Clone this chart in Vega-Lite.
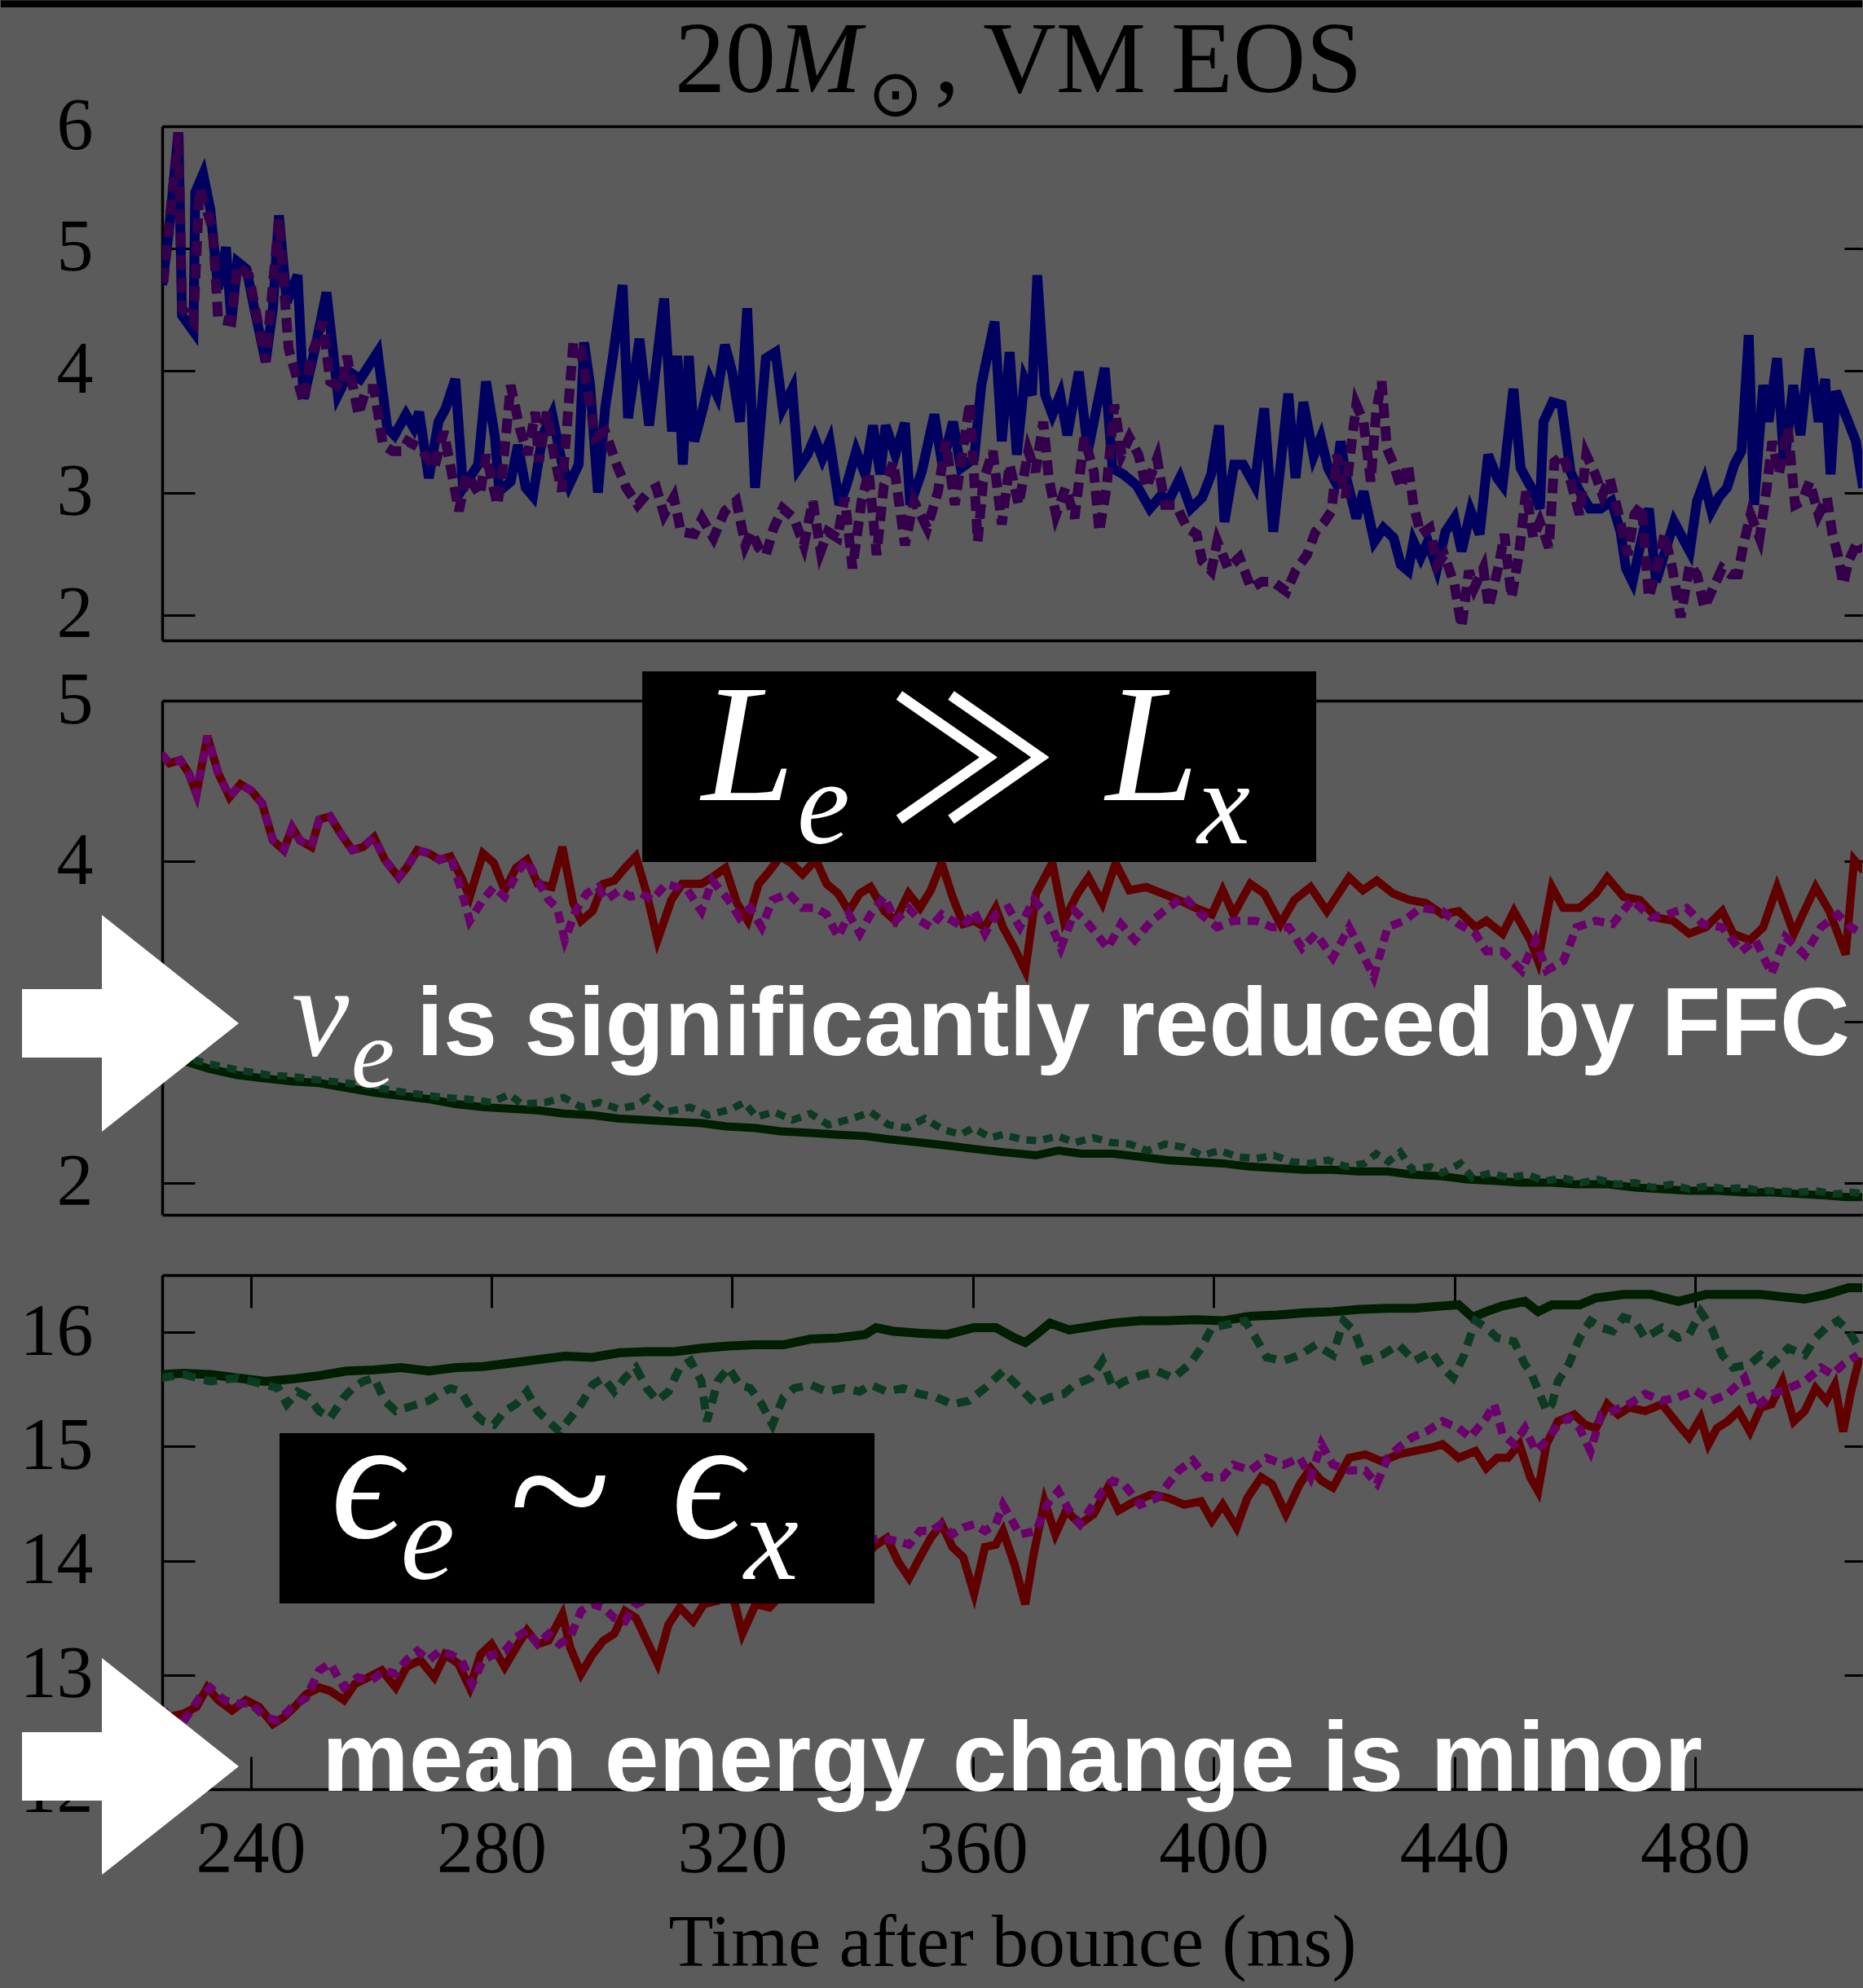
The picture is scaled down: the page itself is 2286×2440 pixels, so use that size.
{
  "$schema": "https://vega.github.io/schema/vega-lite/v6.json",
  "background": "#5b5b5b",
  "padding": {"left": 0, "top": 0, "right": 0, "bottom": 10},
  "spacing": 74,
  "bounds": "flush",
  "config": {
    "view": {"stroke": null},
    "axis": {
      "grid": false,
      "domainColor": "#000000",
      "domainWidth": 3.5,
      "tickColor": "#000000",
      "tickWidth": 3,
      "labelColor": "#000000",
      "labelFont": "Liberation Serif",
      "labelFontSize": 90,
      "labelFlush": false,
      "labelOverlap": false,
      "titleColor": "#000000",
      "titleFont": "Liberation Serif",
      "titleFontWeight": "normal"
    }
  },
  "datasets": {
    "top_solid": [
      {"t":225.3,"v":4.7},{"t":226.4,"v":5.13},{"t":228.0,"v":5.95},{"t":228.6,"v":4.45},{"t":230.5,"v":4.32},{"t":230.8,"v":5.46},{"t":232.1,"v":5.61},{"t":233.3,"v":5.32},{"t":234.6,"v":4.67},{"t":235.9,"v":5.01},{"t":236.8,"v":4.4},{"t":237.8,"v":4.89},{"t":239.3,"v":4.83},{"t":240.6,"v":4.51},{"t":242.5,"v":4.07},{"t":243.7,"v":4.51},{"t":244.7,"v":5.27},{"t":246.0,"v":4.56},{"t":247.8,"v":4.78},{"t":248.8,"v":3.77},{"t":250.7,"v":4.18},{"t":252.6,"v":4.64},{"t":254.5,"v":3.8},{"t":256.4,"v":3.99},{"t":258.2,"v":3.93},{"t":261.1,"v":4.15},{"t":262.7,"v":3.53},{"t":263.9,"v":3.47},{"t":265.8,"v":3.64},{"t":267.1,"v":3.53},{"t":268.0,"v":3.66},{"t":269.6,"v":3.12},{"t":271.2,"v":3.58},{"t":272.4,"v":3.69},{"t":274.0,"v":3.93},{"t":275.3,"v":3.04},{"t":277.8,"v":3.23},{"t":279.1,"v":3.91},{"t":280.6,"v":3.45},{"t":281.3,"v":3.01},{"t":283.2,"v":3.09},{"t":284.4,"v":3.39},{"t":285.7,"v":3.04},{"t":286.9,"v":2.97},{"t":288.5,"v":3.47},{"t":290.1,"v":3.64},{"t":291.7,"v":3.25},{"t":292.9,"v":3.06},{"t":294.5,"v":3.23},{"t":295.4,"v":4.23},{"t":296.4,"v":3.88},{"t":297.7,"v":3.0},{"t":298.9,"v":3.69},{"t":300.2,"v":4.12},{"t":301.8,"v":4.7},{"t":302.7,"v":3.61},{"t":304.6,"v":4.26},{"t":306.2,"v":3.55},{"t":308.7,"v":4.59},{"t":310.0,"v":3.5},{"t":310.9,"v":4.12},{"t":311.8,"v":3.23},{"t":312.8,"v":4.12},{"t":313.7,"v":3.42},{"t":315.0,"v":3.66},{"t":316.3,"v":3.93},{"t":317.5,"v":3.8},{"t":318.8,"v":4.21},{"t":320.0,"v":3.99},{"t":321.3,"v":3.58},{"t":322.5,"v":4.51},{"t":323.8,"v":3.04},{"t":325.6,"v":4.1},{"t":327.2,"v":4.15},{"t":328.4,"v":3.69},{"t":330.0,"v":3.85},{"t":331.0,"v":3.2},{"t":332.5,"v":3.31},{"t":333.7,"v":3.45},{"t":335.0,"v":3.28},{"t":336.2,"v":3.42},{"t":337.8,"v":2.9},{"t":339.0,"v":3.06},{"t":340.6,"v":3.34},{"t":342.1,"v":3.15},{"t":343.4,"v":3.55},{"t":344.6,"v":3.15},{"t":345.5,"v":3.55},{"t":347.1,"v":3.31},{"t":348.7,"v":3.57},{"t":349.6,"v":2.9},{"t":351.5,"v":3.17},{"t":353.6,"v":3.64},{"t":354.9,"v":3.23},{"t":356.7,"v":3.58},{"t":358.0,"v":3.2},{"t":360.2,"v":3.28},{"t":361.4,"v":3.88},{"t":363.6,"v":4.4},{"t":364.8,"v":3.42},{"t":366.1,"v":4.15},{"t":367.3,"v":3.31},{"t":368.6,"v":3.93},{"t":369.8,"v":3.8},{"t":370.7,"v":4.78},{"t":372.0,"v":3.8},{"t":373.2,"v":3.64},{"t":374.5,"v":3.8},{"t":375.7,"v":3.47},{"t":377.6,"v":3.99},{"t":379.1,"v":3.34},{"t":381.9,"v":4.02},{"t":383.2,"v":3.2},{"t":385.0,"v":3.15},{"t":387.2,"v":3.06},{"t":389.4,"v":2.87},{"t":391.3,"v":2.98},{"t":392.5,"v":2.93},{"t":394.4,"v":3.12},{"t":396.2,"v":2.87},{"t":398.1,"v":2.96},{"t":399.6,"v":3.15},{"t":400.9,"v":3.55},{"t":401.8,"v":2.76},{"t":403.4,"v":3.23},{"t":404.9,"v":3.23},{"t":406.8,"v":3.06},{"t":408.4,"v":3.69},{"t":409.9,"v":2.68},{"t":412.4,"v":3.81},{"t":413.6,"v":3.12},{"t":414.9,"v":3.74},{"t":416.6,"v":3.3},{"t":417.8,"v":3.45},{"t":419.0,"v":3.2},{"t":420.2,"v":3.09},{"t":421.1,"v":3.42},{"t":421.9,"v":3.15},{"t":423.7,"v":2.79},{"t":424.9,"v":3.01},{"t":426.7,"v":2.6},{"t":428.2,"v":2.71},{"t":429.9,"v":2.63},{"t":431.1,"v":2.41},{"t":432.3,"v":2.36},{"t":433.2,"v":2.6},{"t":434.4,"v":2.47},{"t":435.6,"v":2.6},{"t":437.1,"v":2.38},{"t":438.5,"v":2.68},{"t":440.0,"v":2.79},{"t":441.2,"v":2.52},{"t":442.7,"v":2.85},{"t":444.2,"v":2.66},{"t":445.6,"v":3.31},{"t":447.1,"v":3.12},{"t":448.0,"v":3.06},{"t":449.8,"v":3.85},{"t":451.0,"v":3.2},{"t":453.1,"v":3.01},{"t":454.2,"v":2.87},{"t":454.8,"v":3.58},{"t":456.3,"v":3.74},{"t":457.8,"v":3.72},{"t":459.3,"v":3.17},{"t":460.8,"v":3.01},{"t":462.5,"v":2.87},{"t":464.3,"v":2.87},{"t":466.1,"v":2.93},{"t":467.6,"v":2.68},{"t":468.5,"v":2.38},{"t":469.6,"v":2.27},{"t":470.8,"v":2.55},{"t":472.3,"v":2.87},{"t":473.5,"v":2.27},{"t":474.7,"v":2.47},{"t":476.5,"v":2.76},{"t":477.9,"v":2.63},{"t":479.1,"v":2.52},{"t":480.3,"v":2.93},{"t":481.5,"v":3.09},{"t":482.7,"v":2.85},{"t":483.9,"v":2.96},{"t":485.3,"v":3.04},{"t":486.5,"v":3.23},{"t":487.7,"v":3.34},{"t":488.9,"v":4.29},{"t":489.8,"v":2.9},{"t":491.3,"v":3.88},{"t":492.2,"v":3.58},{"t":493.6,"v":4.1},{"t":494.8,"v":3.23},{"t":496.3,"v":3.88},{"t":497.5,"v":3.47},{"t":499.0,"v":4.18},{"t":500.5,"v":3.58},{"t":501.6,"v":3.93},{"t":502.5,"v":3.15},{"t":503.4,"v":3.83},{"t":505.2,"v":3.61},{"t":506.7,"v":3.42},{"t":507.9,"v":3.04}
    ],
    "top_dashed": [
      {"t":225.5,"v":4.72},{"t":228.0,"v":5.95},{"t":228.6,"v":4.51},{"t":230.5,"v":4.4},{"t":231.5,"v":5.49},{"t":233.7,"v":5.16},{"t":234.6,"v":4.42},{"t":236.8,"v":4.4},{"t":237.8,"v":4.86},{"t":239.7,"v":4.78},{"t":242.5,"v":4.07},{"t":244.7,"v":5.24},{"t":246.3,"v":4.18},{"t":248.8,"v":3.74},{"t":250.1,"v":4.12},{"t":252.0,"v":4.4},{"t":253.2,"v":3.91},{"t":255.1,"v":3.85},{"t":256.0,"v":4.12},{"t":257.9,"v":3.64},{"t":259.2,"v":3.85},{"t":260.5,"v":3.85},{"t":262.0,"v":3.39},{"t":263.6,"v":3.34},{"t":265.2,"v":3.34},{"t":266.1,"v":3.42},{"t":268.3,"v":3.36},{"t":270.5,"v":3.2},{"t":272.1,"v":3.5},{"t":274.6,"v":2.85},{"t":275.9,"v":3.15},{"t":278.1,"v":2.98},{"t":279.1,"v":3.31},{"t":281.0,"v":2.9},{"t":281.9,"v":3.2},{"t":283.2,"v":3.88},{"t":284.7,"v":3.53},{"t":286.0,"v":3.31},{"t":287.3,"v":3.66},{"t":287.9,"v":3.25},{"t":289.2,"v":3.66},{"t":290.4,"v":3.31},{"t":291.7,"v":3.01},{"t":292.6,"v":3.58},{"t":293.6,"v":4.23},{"t":294.8,"v":4.18},{"t":296.1,"v":3.8},{"t":297.3,"v":3.45},{"t":298.9,"v":3.5},{"t":300.8,"v":3.23},{"t":302.4,"v":3.04},{"t":304.3,"v":2.9},{"t":306.2,"v":3.01},{"t":307.4,"v":3.04},{"t":308.7,"v":2.82},{"t":310.3,"v":2.96},{"t":311.5,"v":2.68},{"t":313.7,"v":2.66},{"t":315.0,"v":2.79},{"t":316.9,"v":2.63},{"t":318.8,"v":2.85},{"t":320.7,"v":2.93},{"t":322.2,"v":2.57},{"t":323.2,"v":2.68},{"t":324.4,"v":2.55},{"t":325.6,"v":2.49},{"t":326.9,"v":2.71},{"t":328.4,"v":2.87},{"t":330.3,"v":2.79},{"t":331.9,"v":2.57},{"t":333.4,"v":2.93},{"t":334.7,"v":2.52},{"t":335.9,"v":2.68},{"t":337.5,"v":2.63},{"t":338.7,"v":2.96},{"t":340.0,"v":2.38},{"t":341.5,"v":2.93},{"t":342.7,"v":3.17},{"t":344.0,"v":2.49},{"t":345.2,"v":3.06},{"t":346.8,"v":3.25},{"t":348.7,"v":2.57},{"t":350.2,"v":2.93},{"t":352.4,"v":2.71},{"t":354.2,"v":3.01},{"t":355.5,"v":3.42},{"t":357.0,"v":2.9},{"t":358.3,"v":3.34},{"t":359.5,"v":3.74},{"t":360.8,"v":2.6},{"t":361.7,"v":3.09},{"t":363.3,"v":3.34},{"t":364.8,"v":2.74},{"t":366.1,"v":3.23},{"t":367.6,"v":2.9},{"t":369.2,"v":3.34},{"t":370.4,"v":3.17},{"t":371.7,"v":3.58},{"t":372.6,"v":3.12},{"t":373.8,"v":2.82},{"t":375.4,"v":3.04},{"t":376.9,"v":2.79},{"t":378.5,"v":3.45},{"t":380.1,"v":3.17},{"t":381.0,"v":2.68},{"t":382.2,"v":3.04},{"t":383.5,"v":3.72},{"t":384.7,"v":3.31},{"t":386.0,"v":3.45},{"t":387.5,"v":3.31},{"t":388.8,"v":3.04},{"t":390.6,"v":3.28},{"t":391.9,"v":2.9},{"t":393.7,"v":2.9},{"t":395.6,"v":2.71},{"t":397.2,"v":2.66},{"t":398.1,"v":2.44},{"t":399.6,"v":2.36},{"t":400.6,"v":2.6},{"t":402.4,"v":2.38},{"t":404.3,"v":2.47},{"t":406.2,"v":2.22},{"t":408.0,"v":2.27},{"t":409.9,"v":2.27},{"t":412.1,"v":2.19},{"t":413.6,"v":2.36},{"t":415.5,"v":2.49},{"t":416.9,"v":2.68},{"t":418.4,"v":2.76},{"t":419.6,"v":2.85},{"t":420.5,"v":3.31},{"t":421.9,"v":2.96},{"t":422.8,"v":3.36},{"t":423.7,"v":3.72},{"t":424.9,"v":3.58},{"t":426.1,"v":3.09},{"t":427.0,"v":3.66},{"t":427.9,"v":3.91},{"t":428.8,"v":3.36},{"t":429.9,"v":3.23},{"t":431.1,"v":3.04},{"t":432.3,"v":3.23},{"t":433.2,"v":2.9},{"t":434.4,"v":2.66},{"t":435.9,"v":2.71},{"t":437.1,"v":2.41},{"t":438.3,"v":2.49},{"t":440.0,"v":2.25},{"t":441.2,"v":1.9},{"t":442.4,"v":2.36},{"t":443.3,"v":2.22},{"t":444.8,"v":2.38},{"t":445.7,"v":2.06},{"t":447.4,"v":2.41},{"t":448.3,"v":2.66},{"t":449.5,"v":2.14},{"t":450.7,"v":2.49},{"t":451.9,"v":3.01},{"t":453.1,"v":2.63},{"t":454.2,"v":2.76},{"t":455.7,"v":2.55},{"t":456.6,"v":3.25},{"t":458.1,"v":3.31},{"t":459.6,"v":3.04},{"t":460.8,"v":2.82},{"t":461.9,"v":3.31},{"t":463.4,"v":3.15},{"t":464.6,"v":2.98},{"t":465.8,"v":3.12},{"t":467.3,"v":2.82},{"t":468.8,"v":2.49},{"t":469.9,"v":2.82},{"t":471.1,"v":2.9},{"t":472.3,"v":2.14},{"t":473.8,"v":2.41},{"t":474.9,"v":2.66},{"t":476.2,"v":2.38},{"t":477.6,"v":1.98},{"t":479.1,"v":2.41},{"t":480.3,"v":2.33},{"t":481.5,"v":2.06},{"t":483.0,"v":2.22},{"t":484.5,"v":2.38},{"t":485.9,"v":2.33},{"t":487.1,"v":2.33},{"t":488.0,"v":2.57},{"t":489.2,"v":2.82},{"t":490.7,"v":2.63},{"t":491.9,"v":3.04},{"t":492.8,"v":3.42},{"t":493.9,"v":3.15},{"t":495.4,"v":3.53},{"t":496.6,"v":2.9},{"t":497.8,"v":2.93},{"t":499.0,"v":3.09},{"t":500.5,"v":2.82},{"t":501.9,"v":2.96},{"t":502.8,"v":2.66},{"t":503.7,"v":2.49},{"t":504.6,"v":2.25},{"t":505.5,"v":2.44},{"t":507.0,"v":2.6},{"t":507.9,"v":2.52}
    ],
    "mid_e_solid": [
      {"t":225.1,"v":4.67},{"t":226.5,"v":4.61},{"t":228.3,"v":4.63},{"t":229.7,"v":4.55},{"t":231.0,"v":4.42},{"t":232.8,"v":4.78},{"t":234.6,"v":4.55},{"t":236.5,"v":4.4},{"t":238.3,"v":4.48},{"t":240.1,"v":4.44},{"t":241.9,"v":4.36},{"t":243.7,"v":4.13},{"t":245.5,"v":4.07},{"t":246.9,"v":4.21},{"t":248.2,"v":4.13},{"t":250.1,"v":4.09},{"t":251.4,"v":4.26},{"t":253.2,"v":4.28},{"t":255.0,"v":4.17},{"t":256.9,"v":4.07},{"t":258.7,"v":4.09},{"t":260.5,"v":4.15},{"t":262.3,"v":4.01},{"t":264.6,"v":3.9},{"t":265.9,"v":3.96},{"t":267.7,"v":4.07},{"t":269.6,"v":4.05},{"t":271.4,"v":4.01},{"t":273.2,"v":4.03},{"t":275.0,"v":3.9},{"t":276.4,"v":3.78},{"t":278.6,"v":4.05},{"t":280.4,"v":3.99},{"t":282.2,"v":3.82},{"t":284.1,"v":3.96},{"t":285.9,"v":4.01},{"t":287.7,"v":3.86},{"t":290.0,"v":3.84},{"t":291.8,"v":4.09},{"t":293.6,"v":3.74},{"t":294.9,"v":3.63},{"t":296.8,"v":3.69},{"t":298.6,"v":3.86},{"t":300.4,"v":3.88},{"t":302.2,"v":3.96},{"t":304.0,"v":4.03},{"t":305.8,"v":3.8},{"t":307.6,"v":3.51},{"t":309.9,"v":3.76},{"t":311.7,"v":3.86},{"t":313.5,"v":3.86},{"t":314.9,"v":3.86},{"t":316.7,"v":3.9},{"t":318.9,"v":3.96},{"t":320.8,"v":3.74},{"t":322.6,"v":3.63},{"t":324.4,"v":3.86},{"t":326.2,"v":3.94},{"t":328.0,"v":4.03},{"t":329.8,"v":3.99},{"t":331.7,"v":3.92},{"t":333.9,"v":4.01},{"t":335.7,"v":3.86},{"t":337.6,"v":3.8},{"t":339.4,"v":3.69},{"t":341.2,"v":3.8},{"t":343.0,"v":3.84},{"t":345.3,"v":3.69},{"t":347.1,"v":3.63},{"t":349.3,"v":3.8},{"t":351.2,"v":3.71},{"t":353.0,"v":3.82},{"t":354.8,"v":3.99},{"t":356.6,"v":3.78},{"t":358.4,"v":3.61},{"t":360.2,"v":3.63},{"t":362.0,"v":3.59},{"t":363.8,"v":3.71},{"t":365.0,"v":3.59},{"t":366.9,"v":3.46},{"t":368.7,"v":3.32},{"t":370.5,"v":3.8},{"t":373.2,"v":3.99},{"t":375.1,"v":3.63},{"t":377.4,"v":3.8},{"t":379.2,"v":3.9},{"t":381.5,"v":3.74},{"t":383.7,"v":3.99},{"t":386.0,"v":3.82},{"t":388.8,"v":3.84},{"t":391.5,"v":3.8},{"t":394.2,"v":3.76},{"t":397.0,"v":3.71},{"t":399.7,"v":3.67},{"t":401.5,"v":3.82},{"t":403.3,"v":3.67},{"t":406.1,"v":3.86},{"t":408.4,"v":3.8},{"t":411.1,"v":3.61},{"t":413.4,"v":3.76},{"t":416.1,"v":3.84},{"t":418.8,"v":3.69},{"t":422.5,"v":3.9},{"t":424.8,"v":3.82},{"t":427.1,"v":3.88},{"t":429.8,"v":3.8},{"t":432.5,"v":3.76},{"t":435.3,"v":3.74},{"t":438.0,"v":3.67},{"t":440.7,"v":3.69},{"t":443.5,"v":3.59},{"t":445.3,"v":3.63},{"t":448.0,"v":3.55},{"t":449.9,"v":3.69},{"t":452.6,"v":3.51},{"t":453.9,"v":3.38},{"t":456.2,"v":3.84},{"t":458.1,"v":3.71},{"t":460.8,"v":3.71},{"t":463.5,"v":3.8},{"t":465.4,"v":3.9},{"t":468.1,"v":3.78},{"t":470.8,"v":3.76},{"t":473.6,"v":3.65},{"t":476.3,"v":3.63},{"t":479.0,"v":3.55},{"t":481.8,"v":3.59},{"t":484.5,"v":3.69},{"t":486.3,"v":3.55},{"t":489.1,"v":3.51},{"t":491.3,"v":3.59},{"t":493.6,"v":3.84},{"t":496.4,"v":3.55},{"t":500.0,"v":3.84},{"t":502.3,"v":3.69},{"t":505.0,"v":3.42},{"t":506.4,"v":4.01},{"t":508.0,"v":3.94}
    ],
    "mid_e_dashed": [
      {"t":225.1,"v":4.67},{"t":226.5,"v":4.61},{"t":228.3,"v":4.63},{"t":229.7,"v":4.55},{"t":231.0,"v":4.42},{"t":232.8,"v":4.78},{"t":234.6,"v":4.55},{"t":236.5,"v":4.4},{"t":238.3,"v":4.48},{"t":240.1,"v":4.44},{"t":241.9,"v":4.36},{"t":243.7,"v":4.13},{"t":245.5,"v":4.07},{"t":246.9,"v":4.21},{"t":248.2,"v":4.13},{"t":250.1,"v":4.09},{"t":251.4,"v":4.26},{"t":253.2,"v":4.28},{"t":255.0,"v":4.17},{"t":256.9,"v":4.07},{"t":258.7,"v":4.09},{"t":260.5,"v":4.15},{"t":262.3,"v":4.01},{"t":264.6,"v":3.9},{"t":265.9,"v":3.96},{"t":267.7,"v":4.07},{"t":269.6,"v":4.05},{"t":271.4,"v":4.01},{"t":273.2,"v":4.03},{"t":275.0,"v":3.82},{"t":276.4,"v":3.63},{"t":278.6,"v":3.76},{"t":280.4,"v":3.84},{"t":282.2,"v":3.78},{"t":284.5,"v":3.94},{"t":285.9,"v":4.01},{"t":287.7,"v":3.88},{"t":289.5,"v":3.76},{"t":290.9,"v":3.71},{"t":292.2,"v":3.51},{"t":294.0,"v":3.69},{"t":295.8,"v":3.8},{"t":297.7,"v":3.84},{"t":299.0,"v":3.76},{"t":301.3,"v":3.82},{"t":303.1,"v":3.78},{"t":304.9,"v":3.8},{"t":306.7,"v":3.76},{"t":309.0,"v":3.86},{"t":310.8,"v":3.84},{"t":312.6,"v":3.82},{"t":314.9,"v":3.69},{"t":316.7,"v":3.88},{"t":319.4,"v":3.76},{"t":321.2,"v":3.65},{"t":323.0,"v":3.71},{"t":324.9,"v":3.59},{"t":326.7,"v":3.76},{"t":329.4,"v":3.8},{"t":331.7,"v":3.71},{"t":333.9,"v":3.71},{"t":335.7,"v":3.67},{"t":337.6,"v":3.53},{"t":339.4,"v":3.67},{"t":341.2,"v":3.55},{"t":343.0,"v":3.67},{"t":345.3,"v":3.78},{"t":347.1,"v":3.63},{"t":349.3,"v":3.71},{"t":351.2,"v":3.63},{"t":353.0,"v":3.59},{"t":354.8,"v":3.67},{"t":356.6,"v":3.63},{"t":358.4,"v":3.59},{"t":360.2,"v":3.69},{"t":362.0,"v":3.55},{"t":363.8,"v":3.67},{"t":365.9,"v":3.71},{"t":367.8,"v":3.59},{"t":370.1,"v":3.76},{"t":372.3,"v":3.67},{"t":374.6,"v":3.46},{"t":376.9,"v":3.69},{"t":379.2,"v":3.61},{"t":382.4,"v":3.46},{"t":384.6,"v":3.61},{"t":386.9,"v":3.51},{"t":389.7,"v":3.63},{"t":392.4,"v":3.71},{"t":395.1,"v":3.78},{"t":397.9,"v":3.67},{"t":400.6,"v":3.59},{"t":403.3,"v":3.63},{"t":407.0,"v":3.63},{"t":409.7,"v":3.59},{"t":412.5,"v":3.59},{"t":414.7,"v":3.46},{"t":417.0,"v":3.55},{"t":419.8,"v":3.4},{"t":422.5,"v":3.59},{"t":424.3,"v":3.46},{"t":426.6,"v":3.28},{"t":428.9,"v":3.59},{"t":431.6,"v":3.63},{"t":434.4,"v":3.71},{"t":438.0,"v":3.69},{"t":440.7,"v":3.61},{"t":443.5,"v":3.55},{"t":445.3,"v":3.44},{"t":448.0,"v":3.44},{"t":451.2,"v":3.32},{"t":453.5,"v":3.51},{"t":455.3,"v":3.32},{"t":458.1,"v":3.38},{"t":460.3,"v":3.59},{"t":463.5,"v":3.63},{"t":466.3,"v":3.61},{"t":469.5,"v":3.76},{"t":472.7,"v":3.65},{"t":475.4,"v":3.67},{"t":478.6,"v":3.71},{"t":481.3,"v":3.61},{"t":484.5,"v":3.59},{"t":487.7,"v":3.44},{"t":490.0,"v":3.51},{"t":492.7,"v":3.3},{"t":495.0,"v":3.53},{"t":498.2,"v":3.42},{"t":500.9,"v":3.59},{"t":503.7,"v":3.67},{"t":505.9,"v":3.59},{"t":507.8,"v":3.55}
    ],
    "mid_x_solid": [
      {"t":225.3,"v":2.83},{"t":228.7,"v":2.76},{"t":233.0,"v":2.71},{"t":237.8,"v":2.67},{"t":242.0,"v":2.65},{"t":246.9,"v":2.63},{"t":251.4,"v":2.62},{"t":256.0,"v":2.59},{"t":260.5,"v":2.56},{"t":265.0,"v":2.54},{"t":269.6,"v":2.52},{"t":274.0,"v":2.49},{"t":278.6,"v":2.47},{"t":283.0,"v":2.46},{"t":287.7,"v":2.45},{"t":292.0,"v":2.43},{"t":296.8,"v":2.42},{"t":301.0,"v":2.4},{"t":305.8,"v":2.39},{"t":310.0,"v":2.38},{"t":314.9,"v":2.37},{"t":319.0,"v":2.35},{"t":323.9,"v":2.34},{"t":328.0,"v":2.32},{"t":333.0,"v":2.31},{"t":337.0,"v":2.3},{"t":342.1,"v":2.29},{"t":346.0,"v":2.27},{"t":351.2,"v":2.25},{"t":356.0,"v":2.23},{"t":360.2,"v":2.21},{"t":365.0,"v":2.19},{"t":370.5,"v":2.17},{"t":374.2,"v":2.2},{"t":378.0,"v":2.18},{"t":383.3,"v":2.18},{"t":388.0,"v":2.16},{"t":392.4,"v":2.14},{"t":397.0,"v":2.13},{"t":401.5,"v":2.12},{"t":406.0,"v":2.1},{"t":410.6,"v":2.09},{"t":415.0,"v":2.08},{"t":419.8,"v":2.08},{"t":424.0,"v":2.07},{"t":428.9,"v":2.07},{"t":433.0,"v":2.05},{"t":438.0,"v":2.04},{"t":442.0,"v":2.02},{"t":447.1,"v":2.01},{"t":451.0,"v":2.0},{"t":456.2,"v":2.0},{"t":460.0,"v":1.99},{"t":465.4,"v":1.99},{"t":470.0,"v":1.97},{"t":474.5,"v":1.96},{"t":479.0,"v":1.95},{"t":483.6,"v":1.95},{"t":488.0,"v":1.94},{"t":492.7,"v":1.94},{"t":497.0,"v":1.93},{"t":501.8,"v":1.92},{"t":505.0,"v":1.91},{"t":508.0,"v":1.91}
    ],
    "mid_x_dashed": [
      {"t":225.3,"v":2.85},{"t":229,"v":2.78},{"t":233,"v":2.74},{"t":238,"v":2.7},{"t":243,"v":2.67},{"t":247,"v":2.66},{"t":251,"v":2.64},{"t":256,"v":2.62},{"t":260,"v":2.6},{"t":264,"v":2.57},{"t":268,"v":2.55},{"t":272,"v":2.53},{"t":276,"v":2.52},{"t":280,"v":2.5},{"t":283,"v":2.55},{"t":285,"v":2.49},{"t":289,"v":2.5},{"t":292,"v":2.53},{"t":295,"v":2.47},{"t":298,"v":2.5},{"t":301,"v":2.46},{"t":304,"v":2.48},{"t":306,"v":2.53},{"t":309,"v":2.44},{"t":313,"v":2.47},{"t":316,"v":2.42},{"t":320,"v":2.46},{"t":322,"v":2.5},{"t":324,"v":2.41},{"t":327,"v":2.44},{"t":330,"v":2.39},{"t":333,"v":2.43},{"t":336,"v":2.36},{"t":340,"v":2.4},{"t":343,"v":2.44},{"t":346,"v":2.36},{"t":349,"v":2.34},{"t":352,"v":2.4},{"t":355,"v":2.33},{"t":358,"v":2.3},{"t":360,"v":2.34},{"t":363,"v":2.28},{"t":365,"v":2.3},{"t":368,"v":2.27},{"t":371,"v":2.26},{"t":374,"v":2.29},{"t":377,"v":2.25},{"t":380,"v":2.28},{"t":383,"v":2.25},{"t":386,"v":2.24},{"t":389,"v":2.2},{"t":392,"v":2.24},{"t":395,"v":2.22},{"t":398,"v":2.17},{"t":401,"v":2.2},{"t":404,"v":2.16},{"t":407,"v":2.15},{"t":410,"v":2.17},{"t":413,"v":2.13},{"t":416,"v":2.12},{"t":419,"v":2.14},{"t":422,"v":2.1},{"t":425,"v":2.12},{"t":427,"v":2.18},{"t":429,"v":2.13},{"t":431,"v":2.19},{"t":433,"v":2.08},{"t":436,"v":2.1},{"t":438,"v":2.06},{"t":441,"v":2.12},{"t":443,"v":2.03},{"t":446,"v":2.06},{"t":449,"v":2.03},{"t":452,"v":2.05},{"t":455,"v":2.01},{"t":458,"v":2.03},{"t":461,"v":2.0},{"t":464,"v":2.02},{"t":467,"v":1.99},{"t":470,"v":2.0},{"t":473,"v":1.97},{"t":476,"v":1.99},{"t":479,"v":1.96},{"t":482,"v":1.98},{"t":485,"v":1.96},{"t":488,"v":1.97},{"t":491,"v":1.95},{"t":494,"v":1.95},{"t":497,"v":1.94},{"t":500,"v":1.95},{"t":503,"v":1.93},{"t":506,"v":1.94},{"t":508,"v":1.93}
    ],
    "bot_x_solid": [
      {"t":225.1,"v":15.63},{"t":228.8,"v":15.64},{"t":233.3,"v":15.63},{"t":237.8,"v":15.6},{"t":242.4,"v":15.57},{"t":246.9,"v":15.59},{"t":251.4,"v":15.62},{"t":255.9,"v":15.66},{"t":260.5,"v":15.67},{"t":265.0,"v":15.69},{"t":269.6,"v":15.66},{"t":274.1,"v":15.69},{"t":278.6,"v":15.7},{"t":283.2,"v":15.73},{"t":287.7,"v":15.76},{"t":292.2,"v":15.79},{"t":296.8,"v":15.78},{"t":301.3,"v":15.82},{"t":305.8,"v":15.83},{"t":310.4,"v":15.83},{"t":314.9,"v":15.86},{"t":319.4,"v":15.88},{"t":323.9,"v":15.89},{"t":328.5,"v":15.89},{"t":333.0,"v":15.94},{"t":337.5,"v":15.95},{"t":342.1,"v":15.98},{"t":343.9,"v":16.04},{"t":346.6,"v":16.01},{"t":351.2,"v":15.99},{"t":355.7,"v":15.98},{"t":360.2,"v":16.04},{"t":363.8,"v":16.04},{"t":366.9,"v":15.95},{"t":368.7,"v":15.91},{"t":370.5,"v":15.98},{"t":372.8,"v":16.08},{"t":376.0,"v":16.02},{"t":379.6,"v":16.05},{"t":383.3,"v":16.08},{"t":387.8,"v":16.1},{"t":392.4,"v":16.1},{"t":396.9,"v":16.11},{"t":401.5,"v":16.1},{"t":406.1,"v":16.14},{"t":410.6,"v":16.15},{"t":415.2,"v":16.17},{"t":419.8,"v":16.18},{"t":424.3,"v":16.2},{"t":428.9,"v":16.21},{"t":433.4,"v":16.21},{"t":438.0,"v":16.23},{"t":440.7,"v":16.24},{"t":443.0,"v":16.13},{"t":445.3,"v":16.18},{"t":448.0,"v":16.23},{"t":451.7,"v":16.27},{"t":453.9,"v":16.18},{"t":456.2,"v":16.24},{"t":460.8,"v":16.24},{"t":463.5,"v":16.3},{"t":468.1,"v":16.33},{"t":472.7,"v":16.33},{"t":477.2,"v":16.27},{"t":481.8,"v":16.33},{"t":486.3,"v":16.33},{"t":490.9,"v":16.33},{"t":494.5,"v":16.31},{"t":498.2,"v":16.29},{"t":501.8,"v":16.33},{"t":505.5,"v":16.39},{"t":508.0,"v":16.39}
    ],
    "bot_x_dashed": [
      {"t":225.1,"v":15.6},{"t":228.8,"v":15.63},{"t":233.3,"v":15.57},{"t":237.8,"v":15.6},{"t":242.4,"v":15.54},{"t":244.6,"v":15.51},{"t":246.0,"v":15.37},{"t":247.8,"v":15.48},{"t":249.6,"v":15.43},{"t":251.4,"v":15.31},{"t":253.2,"v":15.25},{"t":255.5,"v":15.43},{"t":256.9,"v":15.51},{"t":258.7,"v":15.57},{"t":260.5,"v":15.6},{"t":262.3,"v":15.4},{"t":264.1,"v":15.31},{"t":265.9,"v":15.34},{"t":267.7,"v":15.37},{"t":269.6,"v":15.4},{"t":271.4,"v":15.46},{"t":273.2,"v":15.51},{"t":275.0,"v":15.48},{"t":276.8,"v":15.31},{"t":278.6,"v":15.22},{"t":280.4,"v":15.19},{"t":282.2,"v":15.31},{"t":284.1,"v":15.37},{"t":285.9,"v":15.48},{"t":287.7,"v":15.31},{"t":289.5,"v":15.22},{"t":291.3,"v":15.13},{"t":293.1,"v":15.25},{"t":294.9,"v":15.37},{"t":296.8,"v":15.54},{"t":298.6,"v":15.6},{"t":300.4,"v":15.48},{"t":302.2,"v":15.6},{"t":304.0,"v":15.69},{"t":305.8,"v":15.51},{"t":307.6,"v":15.4},{"t":309.4,"v":15.48},{"t":311.3,"v":15.69},{"t":313.1,"v":15.75},{"t":314.9,"v":15.57},{"t":315.8,"v":15.22},{"t":317.6,"v":15.57},{"t":319.4,"v":15.69},{"t":321.2,"v":15.54},{"t":323.0,"v":15.51},{"t":324.9,"v":15.37},{"t":326.7,"v":15.19},{"t":328.5,"v":15.43},{"t":330.3,"v":15.51},{"t":333.0,"v":15.54},{"t":335.7,"v":15.48},{"t":338.5,"v":15.51},{"t":341.2,"v":15.48},{"t":343.0,"v":15.54},{"t":345.7,"v":15.48},{"t":348.4,"v":15.51},{"t":351.1,"v":15.46},{"t":353.9,"v":15.43},{"t":356.6,"v":15.37},{"t":359.3,"v":15.4},{"t":362.0,"v":15.51},{"t":365.0,"v":15.66},{"t":367.8,"v":15.51},{"t":370.5,"v":15.37},{"t":372.8,"v":15.43},{"t":375.1,"v":15.46},{"t":376.9,"v":15.54},{"t":379.6,"v":15.6},{"t":381.5,"v":15.75},{"t":383.3,"v":15.51},{"t":385.1,"v":15.57},{"t":387.8,"v":15.62},{"t":390.6,"v":15.66},{"t":393.3,"v":15.6},{"t":396.0,"v":15.72},{"t":397.9,"v":15.86},{"t":399.7,"v":16.04},{"t":402.4,"v":16.07},{"t":405.2,"v":16.1},{"t":407.0,"v":15.95},{"t":408.8,"v":15.78},{"t":411.6,"v":15.75},{"t":414.3,"v":15.8},{"t":417.0,"v":15.89},{"t":419.8,"v":15.8},{"t":421.6,"v":16.1},{"t":423.4,"v":16.01},{"t":425.2,"v":15.75},{"t":427.9,"v":15.8},{"t":430.7,"v":15.89},{"t":433.4,"v":15.75},{"t":436.2,"v":15.83},{"t":438.0,"v":15.69},{"t":439.8,"v":15.6},{"t":441.6,"v":15.8},{"t":443.5,"v":16.1},{"t":445.3,"v":16.04},{"t":447.1,"v":15.95},{"t":449.9,"v":15.92},{"t":451.7,"v":15.72},{"t":452.6,"v":15.66},{"t":454.4,"v":15.43},{"t":455.3,"v":15.31},{"t":456.2,"v":15.37},{"t":457.2,"v":15.57},{"t":459.0,"v":15.72},{"t":460.8,"v":15.95},{"t":462.6,"v":16.1},{"t":464.4,"v":16.04},{"t":466.3,"v":16.01},{"t":468.1,"v":16.13},{"t":469.9,"v":16.1},{"t":471.7,"v":15.95},{"t":474.5,"v":16.04},{"t":477.2,"v":15.95},{"t":479.0,"v":15.98},{"t":480.9,"v":16.18},{"t":482.7,"v":16.04},{"t":484.5,"v":15.8},{"t":486.3,"v":15.69},{"t":489.1,"v":15.72},{"t":490.9,"v":15.8},{"t":492.7,"v":15.72},{"t":495.5,"v":15.86},{"t":498.2,"v":15.8},{"t":500.0,"v":15.95},{"t":501.8,"v":16.04},{"t":503.7,"v":16.1},{"t":505.5,"v":16.01},{"t":507.3,"v":15.86}
    ],
    "bot_e_solid": [
      {"t":225.3,"v":12.6},{"t":226.0,"v":12.63},{"t":228.8,"v":12.66},{"t":231.0,"v":12.72},{"t":232.8,"v":12.89},{"t":234.6,"v":12.78},{"t":236.9,"v":12.69},{"t":239.2,"v":12.78},{"t":241.4,"v":12.72},{"t":243.7,"v":12.57},{"t":245.5,"v":12.63},{"t":247.3,"v":12.72},{"t":249.2,"v":12.83},{"t":251.4,"v":12.89},{"t":253.2,"v":12.86},{"t":255.5,"v":12.78},{"t":257.3,"v":12.92},{"t":259.6,"v":12.98},{"t":261.8,"v":13.04},{"t":264.1,"v":12.89},{"t":265.9,"v":13.07},{"t":268.2,"v":13.13},{"t":270.5,"v":12.98},{"t":272.3,"v":13.18},{"t":274.5,"v":13.1},{"t":276.4,"v":12.89},{"t":278.2,"v":13.18},{"t":280.0,"v":13.27},{"t":282.2,"v":13.07},{"t":284.1,"v":13.24},{"t":285.9,"v":13.39},{"t":287.7,"v":13.27},{"t":289.5,"v":13.3},{"t":291.8,"v":13.53},{"t":293.1,"v":13.24},{"t":294.9,"v":13.01},{"t":296.8,"v":13.18},{"t":298.6,"v":13.3},{"t":300.4,"v":13.36},{"t":302.2,"v":13.56},{"t":304.0,"v":13.5},{"t":305.8,"v":13.3},{"t":307.6,"v":13.1},{"t":309.4,"v":13.44},{"t":311.3,"v":13.59},{"t":313.5,"v":13.47},{"t":315.3,"v":13.62},{"t":317.6,"v":13.65},{"t":319.9,"v":13.74},{"t":321.7,"v":13.36},{"t":323.9,"v":13.62},{"t":326.2,"v":13.59},{"t":329.0,"v":13.75},{"t":332.0,"v":13.8},{"t":335.0,"v":13.85},{"t":338.0,"v":13.95},{"t":341.0,"v":14.0},{"t":344.0,"v":14.14},{"t":345.7,"v":14.2},{"t":347.6,"v":13.99},{"t":349.4,"v":13.85},{"t":351.2,"v":14.03},{"t":353.0,"v":14.2},{"t":354.8,"v":14.32},{"t":356.6,"v":14.12},{"t":358.4,"v":14.03},{"t":360.2,"v":13.71},{"t":362.0,"v":14.12},{"t":363.8,"v":14.14},{"t":365.0,"v":14.26},{"t":366.9,"v":13.97},{"t":368.7,"v":13.62},{"t":370.1,"v":14.06},{"t":371.9,"v":14.52},{"t":373.7,"v":14.23},{"t":375.5,"v":14.44},{"t":377.8,"v":14.32},{"t":380.1,"v":14.41},{"t":382.4,"v":14.64},{"t":384.2,"v":14.44},{"t":386.9,"v":14.52},{"t":389.7,"v":14.58},{"t":392.4,"v":14.55},{"t":395.1,"v":14.49},{"t":397.9,"v":14.52},{"t":399.7,"v":14.35},{"t":401.5,"v":14.49},{"t":403.8,"v":14.29},{"t":405.6,"v":14.55},{"t":407.9,"v":14.73},{"t":409.7,"v":14.67},{"t":412.0,"v":14.41},{"t":414.3,"v":14.67},{"t":416.1,"v":14.81},{"t":417.9,"v":14.7},{"t":419.8,"v":14.64},{"t":422.5,"v":14.9},{"t":425.2,"v":14.93},{"t":427.9,"v":14.87},{"t":430.7,"v":14.93},{"t":433.4,"v":14.96},{"t":436.2,"v":14.99},{"t":438.0,"v":15.02},{"t":440.7,"v":14.9},{"t":443.5,"v":14.96},{"t":445.3,"v":14.81},{"t":447.1,"v":14.9},{"t":448.9,"v":14.9},{"t":450.8,"v":15.02},{"t":452.6,"v":14.73},{"t":453.9,"v":14.61},{"t":455.3,"v":15.02},{"t":457.2,"v":15.22},{"t":459.9,"v":15.28},{"t":461.7,"v":15.19},{"t":463.5,"v":15.16},{"t":465.4,"v":15.37},{"t":467.2,"v":15.28},{"t":469.0,"v":15.34},{"t":471.7,"v":15.31},{"t":474.5,"v":15.37},{"t":477.2,"v":15.19},{"t":479.0,"v":15.08},{"t":480.9,"v":15.25},{"t":482.2,"v":15.02},{"t":483.6,"v":15.16},{"t":485.4,"v":15.22},{"t":487.2,"v":15.31},{"t":489.1,"v":15.13},{"t":490.9,"v":15.34},{"t":492.7,"v":15.37},{"t":494.5,"v":15.57},{"t":496.4,"v":15.22},{"t":498.2,"v":15.31},{"t":500.0,"v":15.51},{"t":501.8,"v":15.4},{"t":503.2,"v":15.54},{"t":504.6,"v":15.13},{"t":505.9,"v":15.48},{"t":507.3,"v":15.78}
    ],
    "bot_e_dashed": [
      {"t":225.3,"v":12.62},{"t":226.0,"v":12.66},{"t":227.8,"v":12.51},{"t":231.5,"v":12.8},{"t":233.3,"v":12.89},{"t":235.6,"v":12.78},{"t":237.8,"v":12.75},{"t":240.1,"v":12.75},{"t":242.4,"v":12.63},{"t":244.6,"v":12.6},{"t":246.9,"v":12.72},{"t":249.2,"v":12.8},{"t":251.4,"v":13.04},{"t":253.2,"v":13.1},{"t":255.5,"v":12.89},{"t":257.8,"v":12.98},{"t":260.0,"v":12.95},{"t":262.3,"v":13.04},{"t":264.1,"v":13.01},{"t":265.9,"v":13.13},{"t":267.7,"v":13.21},{"t":269.6,"v":13.13},{"t":271.4,"v":13.21},{"t":273.2,"v":13.18},{"t":275.0,"v":13.13},{"t":276.8,"v":12.92},{"t":278.6,"v":13.13},{"t":280.4,"v":13.18},{"t":282.2,"v":13.21},{"t":284.1,"v":13.33},{"t":285.9,"v":13.39},{"t":287.7,"v":13.27},{"t":289.5,"v":13.36},{"t":291.3,"v":13.27},{"t":293.1,"v":13.33},{"t":294.9,"v":13.56},{"t":296.8,"v":13.62},{"t":298.6,"v":13.59},{"t":300.4,"v":13.5},{"t":302.2,"v":13.47},{"t":304.0,"v":13.62},{"t":308.0,"v":13.7},{"t":312.0,"v":13.8},{"t":316.0,"v":13.85},{"t":320.0,"v":13.9},{"t":325.0,"v":13.95},{"t":330.0,"v":14.0},{"t":335.0,"v":14.05},{"t":340.0,"v":14.15},{"t":344.8,"v":14.2},{"t":347.6,"v":14.17},{"t":349.4,"v":14.14},{"t":351.2,"v":14.26},{"t":353.0,"v":14.26},{"t":354.8,"v":14.32},{"t":356.6,"v":14.23},{"t":358.4,"v":14.29},{"t":360.2,"v":14.32},{"t":362.0,"v":14.26},{"t":363.8,"v":14.32},{"t":365.0,"v":14.49},{"t":367.8,"v":14.23},{"t":370.5,"v":14.26},{"t":372.3,"v":14.49},{"t":374.2,"v":14.61},{"t":376.0,"v":14.44},{"t":377.8,"v":14.32},{"t":379.6,"v":14.46},{"t":381.5,"v":14.61},{"t":383.3,"v":14.7},{"t":385.1,"v":14.67},{"t":387.8,"v":14.49},{"t":390.6,"v":14.55},{"t":392.4,"v":14.67},{"t":394.2,"v":14.79},{"t":396.5,"v":14.88},{"t":398.8,"v":14.73},{"t":401.5,"v":14.73},{"t":403.3,"v":14.84},{"t":406.1,"v":14.79},{"t":408.8,"v":14.9},{"t":411.6,"v":14.84},{"t":414.3,"v":14.9},{"t":416.1,"v":14.73},{"t":417.9,"v":15.02},{"t":419.8,"v":14.84},{"t":422.5,"v":14.79},{"t":425.2,"v":14.79},{"t":427.1,"v":14.67},{"t":428.9,"v":14.9},{"t":430.7,"v":14.99},{"t":433.0,"v":15.08},{"t":435.3,"v":15.13},{"t":438.0,"v":15.22},{"t":440.7,"v":15.16},{"t":442.6,"v":15.08},{"t":445.3,"v":15.25},{"t":446.6,"v":15.37},{"t":448.0,"v":15.11},{"t":449.9,"v":15.02},{"t":451.7,"v":15.16},{"t":453.5,"v":14.96},{"t":455.3,"v":15.05},{"t":457.2,"v":15.19},{"t":459.0,"v":15.25},{"t":460.8,"v":15.16},{"t":462.6,"v":14.96},{"t":464.4,"v":15.28},{"t":466.3,"v":15.31},{"t":469.0,"v":15.37},{"t":471.7,"v":15.46},{"t":474.5,"v":15.4},{"t":477.2,"v":15.43},{"t":480.0,"v":15.49},{"t":482.7,"v":15.4},{"t":485.4,"v":15.46},{"t":488.2,"v":15.6},{"t":490.0,"v":15.34},{"t":492.7,"v":15.46},{"t":495.5,"v":15.51},{"t":498.2,"v":15.57},{"t":500.9,"v":15.69},{"t":502.8,"v":15.63},{"t":504.6,"v":15.72},{"t":507.0,"v":15.8}
    ]
  },
  "vconcat": [
    {
      "width": 2086,
      "height": 631,
      "resolve": {"axis": {"x": "independent", "y": "independent"}},
      "layer": [
        {
          "data": {"name": "top_solid"},
          "mark": {"type": "line", "color": "#000060", "strokeWidth": 12, "clip": true},
          "encoding": {
            "x": {"field": "t", "type": "quantitative", "scale": {"domain": [225.3, 507.75], "nice": false, "zero": false},
                  "axis": {"orient": "bottom", "ticks": false, "labels": false, "title": null}},
            "y": {"field": "v", "type": "quantitative", "scale": {"domain": [1.79, 6.0], "nice": false, "zero": false},
                  "axis": {"orient": "left", "values": [2, 3, 4, 5, 6], "tickSize": -40, "labelPadding": 125, "title": null}}
          }
        },
        {
          "data": {"name": "top_dashed"},
          "mark": {"type": "line", "color": "#34004c", "strokeWidth": 12, "strokeDash": [18, 10], "clip": true},
          "encoding": {
            "x": {"field": "t", "type": "quantitative", "axis": {"orient": "top", "ticks": false, "labels": false, "title": null}},
            "y": {"field": "v", "type": "quantitative", "axis": {"orient": "right", "values": [2, 3, 4, 5], "tickSize": -22, "labels": false, "domain": false, "title": null}}
          }
        },
        {
          "data": {"values": [{}]},
          "mark": {"type": "rect", "color": "#000000"},
          "encoding": {
            "x": {"datum": 198.49, "type": "quantitative", "axis": null},
            "x2": {"datum": 507.75},
            "y": {"datum": 7.03, "type": "quantitative", "axis": null},
            "y2": {"datum": 6.974}
          }
        },
        {
          "data": {"values": [{}]},
          "mark": {"type": "text", "text": "20", "font": "Liberation Serif", "fontSize": 124, "color": "#000000", "align": "left", "baseline": "alphabetic"},
          "encoding": {"x": {"datum": 310.47, "type": "quantitative", "axis": null}, "y": {"datum": 6.28, "type": "quantitative", "axis": null}}
        },
        {
          "data": {"values": [{}]},
          "mark": {"type": "text", "text": "M", "font": "Liberation Serif", "fontStyle": "italic", "fontSize": 124, "color": "#000000", "align": "left", "baseline": "alphabetic"},
          "encoding": {"x": {"datum": 327.5, "type": "quantitative", "axis": null}, "y": {"datum": 6.28, "type": "quantitative", "axis": null}}
        },
        {
          "data": {"values": [{}]},
          "mark": {"type": "text", "text": "⊙", "font": "DejaVu Sans", "fontSize": 80, "color": "#000000", "align": "left", "baseline": "alphabetic"},
          "encoding": {"x": {"datum": 342.6, "type": "quantitative", "axis": null}, "y": {"datum": 6.087, "type": "quantitative", "axis": null}}
        },
        {
          "data": {"values": [{}]},
          "mark": {"type": "text", "text": ", VM EOS", "font": "Liberation Serif", "fontSize": 124, "color": "#000000", "align": "left", "baseline": "alphabetic"},
          "encoding": {"x": {"datum": 353.6, "type": "quantitative", "axis": null}, "y": {"datum": 6.28, "type": "quantitative", "axis": null}}
        }
      ]
    },
    {
      "width": 2086,
      "height": 631,
      "resolve": {"axis": {"x": "independent", "y": "independent"}},
      "layer": [
        {
          "data": {"name": "mid_x_solid"},
          "mark": {"type": "line", "color": "#001e00", "strokeWidth": 10, "clip": true},
          "encoding": {
            "x": {"field": "t", "type": "quantitative", "scale": {"domain": [225.3, 507.75], "nice": false, "zero": false},
                  "axis": {"orient": "bottom", "ticks": false, "labels": false, "title": null}},
            "y": {"field": "v", "type": "quantitative", "scale": {"domain": [1.8, 5.0], "nice": false, "zero": false},
                  "axis": {"orient": "left", "values": [2, 3, 4, 5], "tickSize": -40, "labelPadding": 125, "title": null}}
          }
        },
        {
          "data": {"name": "mid_x_dashed"},
          "mark": {"type": "line", "color": "#0d3a23", "strokeWidth": 9, "strokeDash": [12, 9], "clip": true},
          "encoding": {
            "x": {"field": "t", "type": "quantitative", "axis": {"orient": "top", "ticks": false, "labels": false, "title": null}},
            "y": {"field": "v", "type": "quantitative", "axis": {"orient": "right", "values": [2, 3, 4], "tickSize": -22, "labels": false, "domain": false, "title": null}}
          }
        },
        {
          "data": {"name": "mid_e_solid"},
          "mark": {"type": "line", "color": "#600000", "strokeWidth": 10, "clip": true},
          "encoding": {
            "x": {"field": "t", "type": "quantitative", "axis": null},
            "y": {"field": "v", "type": "quantitative", "axis": null}
          }
        },
        {
          "data": {"name": "mid_e_dashed"},
          "mark": {"type": "line", "color": "#6b006b", "strokeWidth": 10, "strokeDash": [14, 9], "clip": true},
          "encoding": {
            "x": {"field": "t", "type": "quantitative", "axis": null},
            "y": {"field": "v", "type": "quantitative", "axis": null}
          }
        },
        {
          "data": {"values": [{}]},
          "mark": {"type": "rect", "color": "#000000"},
          "encoding": {
            "x": {"datum": 305.06, "type": "quantitative", "axis": null},
            "x2": {"datum": 417.04},
            "y": {"datum": 5.183, "type": "quantitative", "axis": null},
            "y2": {"datum": 3.996}
          }
        },
        {
          "data": {"values": [{}]},
          "mark": {"type": "text", "text": "L", "font": "Liberation Serif", "fontStyle": "italic", "fontSize": 205, "color": "#ffffff", "align": "left", "baseline": "alphabetic"},
          "encoding": {"x": {"datum": 314.94, "type": "quantitative", "axis": null}, "y": {"datum": 4.381, "type": "quantitative", "axis": null}}
        },
        {
          "data": {"values": [{}]},
          "mark": {"type": "text", "text": "e", "font": "Liberation Serif", "fontStyle": "italic", "fontSize": 146, "color": "#ffffff", "align": "left", "baseline": "alphabetic"},
          "encoding": {"x": {"datum": 330.78, "type": "quantitative", "axis": null}, "y": {"datum": 4.113, "type": "quantitative", "axis": null}}
        },
        {
          "data": {"values": [{}]},
          "mark": {"type": "text", "text": "≫", "font": "Noto Sans CJK JP", "fontSize": 210, "color": "#ffffff", "align": "left", "baseline": "alphabetic"},
          "encoding": {"x": {"datum": 345.7, "type": "quantitative", "axis": null}, "y": {"datum": 4.244, "type": "quantitative", "axis": null}}
        },
        {
          "data": {"values": [{}]},
          "mark": {"type": "text", "text": "L", "font": "Liberation Serif", "fontStyle": "italic", "fontSize": 205, "color": "#ffffff", "align": "left", "baseline": "alphabetic"},
          "encoding": {"x": {"datum": 382.1, "type": "quantitative", "axis": null}, "y": {"datum": 4.381, "type": "quantitative", "axis": null}}
        },
        {
          "data": {"values": [{}]},
          "mark": {"type": "text", "text": "x", "font": "Liberation Serif", "fontStyle": "italic", "fontSize": 146, "color": "#ffffff", "align": "left", "baseline": "alphabetic"},
          "encoding": {"x": {"datum": 397.3, "type": "quantitative", "axis": null}, "y": {"datum": 4.113, "type": "quantitative", "axis": null}}
        },
        {
          "data": {"values": [{}]},
          "mark": {"type": "point", "shape": "M -1 -0.316 L -0.263 -0.316 L -0.263 -1 L 1 0 L -0.263 1 L -0.263 0.316 L -1 0.316 Z", "size": 70756, "filled": true, "color": "#ffffff", "opacity": 1, "strokeWidth": 0},
          "encoding": {"x": {"datum": 220.02, "type": "quantitative", "axis": null}, "y": {"datum": 2.992, "type": "quantitative", "axis": null}}
        },
        {
          "data": {"values": [{}]},
          "mark": {"type": "text", "text": "ν", "font": "Liberation Serif", "fontStyle": "italic", "fontSize": 158, "color": "#ffffff", "align": "left", "baseline": "alphabetic"},
          "encoding": {"x": {"datum": 246.83, "type": "quantitative", "axis": null}, "y": {"datum": 2.794, "type": "quantitative", "axis": null}}
        },
        {
          "data": {"values": [{}]},
          "mark": {"type": "text", "text": "e", "font": "Liberation Serif", "fontStyle": "italic", "fontSize": 120, "color": "#ffffff", "align": "left", "baseline": "alphabetic"},
          "encoding": {"x": {"datum": 256.7, "type": "quantitative", "axis": null}, "y": {"datum": 2.596, "type": "quantitative", "axis": null}}
        },
        {
          "data": {"values": [{}]},
          "mark": {"type": "text", "text": "is significantly reduced by FFC", "font": "Liberation Sans", "fontWeight": "bold", "fontSize": 119, "color": "#ffffff", "align": "left", "baseline": "alphabetic"},
          "encoding": {"x": {"datum": 267.55, "type": "quantitative", "axis": null}, "y": {"datum": 2.794, "type": "quantitative", "axis": null}}
        }
      ]
    },
    {
      "width": 2086,
      "height": 631,
      "resolve": {"axis": {"x": "independent", "y": "independent"}},
      "layer": [
        {
          "data": {"name": "bot_x_solid"},
          "mark": {"type": "line", "color": "#001e00", "strokeWidth": 11, "clip": true},
          "encoding": {
            "x": {"field": "t", "type": "quantitative", "scale": {"domain": [225.3, 507.75], "nice": false, "zero": false},
                  "axis": {"orient": "bottom", "values": [240, 280, 320, 360, 400, 440, 480], "tickSize": -40, "labelPadding": 70,
                           "title": "Time after bounce (ms)", "titleFontSize": 90, "titlePadding": 26}},
            "y": {"field": "v", "type": "quantitative", "scale": {"domain": [12.0, 16.5], "nice": false, "zero": false},
                  "axis": {"orient": "left", "values": [12, 13, 14, 15, 16], "tickSize": -40, "labelPadding": 125, "title": null}}
          }
        },
        {
          "data": {"name": "bot_x_dashed"},
          "mark": {"type": "line", "color": "#0d3a23", "strokeWidth": 10, "strokeDash": [16, 11], "clip": true},
          "encoding": {
            "x": {"field": "t", "type": "quantitative", "axis": {"orient": "top", "values": [240, 280, 320, 360, 400, 440, 480], "tickSize": -40, "labels": false, "title": null}},
            "y": {"field": "v", "type": "quantitative", "axis": {"orient": "right", "values": [13, 14, 15, 16], "tickSize": -22, "labels": false, "domain": false, "title": null}}
          }
        },
        {
          "data": {"name": "bot_e_solid"},
          "mark": {"type": "line", "color": "#600000", "strokeWidth": 10, "clip": true},
          "encoding": {
            "x": {"field": "t", "type": "quantitative", "axis": null},
            "y": {"field": "v", "type": "quantitative", "axis": null}
          }
        },
        {
          "data": {"name": "bot_e_dashed"},
          "mark": {"type": "line", "color": "#6b006b", "strokeWidth": 10, "strokeDash": [14, 9], "clip": true},
          "encoding": {
            "x": {"field": "t", "type": "quantitative", "axis": null},
            "y": {"field": "v", "type": "quantitative", "axis": null}
          }
        },
        {
          "data": {"values": [{}]},
          "mark": {"type": "rect", "color": "#000000"},
          "encoding": {
            "x": {"datum": 244.8, "type": "quantitative", "axis": null},
            "x2": {"datum": 343.65},
            "y": {"datum": 15.116, "type": "quantitative", "axis": null},
            "y2": {"datum": 13.626}
          }
        },
        {
          "data": {"values": [{}]},
          "mark": {"type": "text", "text": "ϵ", "font": "Liberation Serif", "fontStyle": "italic", "fontSize": 215, "color": "#ffffff", "align": "left", "baseline": "alphabetic"},
          "encoding": {"x": {"datum": 253.33, "type": "quantitative", "axis": null}, "y": {"datum": 14.203, "type": "quantitative", "axis": null}}
        },
        {
          "data": {"values": [{}]},
          "mark": {"type": "text", "text": "e", "font": "Liberation Serif", "fontStyle": "italic", "fontSize": 150, "color": "#ffffff", "align": "left", "baseline": "alphabetic"},
          "encoding": {"x": {"datum": 264.9, "type": "quantitative", "axis": null}, "y": {"datum": 13.84, "type": "quantitative", "axis": null}}
        },
        {
          "data": {"values": [{}]},
          "mark": {"type": "text", "text": "~", "font": "Liberation Serif", "fontSize": 230, "color": "#ffffff", "align": "left", "baseline": "alphabetic"},
          "encoding": {"x": {"datum": 282.98, "type": "quantitative", "axis": null}, "y": {"datum": 14.06, "type": "quantitative", "axis": null}}
        },
        {
          "data": {"values": [{}]},
          "mark": {"type": "text", "text": "ϵ", "font": "Liberation Serif", "fontStyle": "italic", "fontSize": 215, "color": "#ffffff", "align": "left", "baseline": "alphabetic"},
          "encoding": {"x": {"datum": 309.93, "type": "quantitative", "axis": null}, "y": {"datum": 14.203, "type": "quantitative", "axis": null}}
        },
        {
          "data": {"values": [{}]},
          "mark": {"type": "text", "text": "x", "font": "Liberation Serif", "fontStyle": "italic", "fontSize": 150, "color": "#ffffff", "align": "left", "baseline": "alphabetic"},
          "encoding": {"x": {"datum": 322.0, "type": "quantitative", "axis": null}, "y": {"datum": 13.84, "type": "quantitative", "axis": null}}
        },
        {
          "data": {"values": [{}]},
          "mark": {"type": "point", "shape": "M -1 -0.316 L -0.263 -0.316 L -0.263 -1 L 1 0 L -0.263 1 L -0.263 0.316 L -1 0.316 Z", "size": 70756, "filled": true, "color": "#ffffff", "opacity": 1, "strokeWidth": 0},
          "encoding": {"x": {"datum": 220.02, "type": "quantitative", "axis": null}, "y": {"datum": 12.199, "type": "quantitative", "axis": null}}
        },
        {
          "data": {"values": [{}]},
          "mark": {"type": "text", "text": "mean energy change is minor", "font": "Liberation Sans", "fontWeight": "bold", "fontSize": 120, "color": "#ffffff", "align": "left", "baseline": "alphabetic"},
          "encoding": {"x": {"datum": 251.84, "type": "quantitative", "axis": null}, "y": {"datum": 11.985, "type": "quantitative", "axis": null}}
        }
      ]
    }
  ]
}
